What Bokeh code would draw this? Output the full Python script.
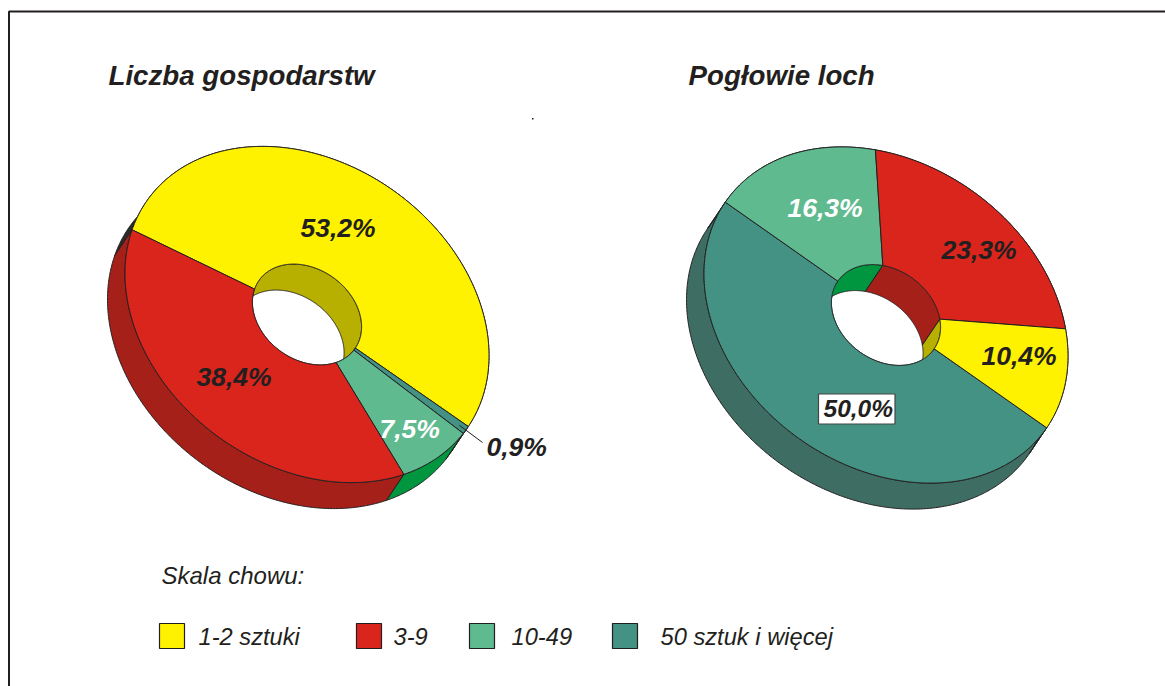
import numpy as np
from bokeh.plotting import figure
from bokeh.models import ColumnDataSource
from bokeh.core.properties import value
from bokeh.embed import file_html
from bokeh.resources import INLINE

# ---- data ----
left_title = "Liczba gospodarstw"
right_title = "Pogłowie loch"
legend_title = "Skala chowu:"
scale_names = ["1-2 sztuki", "3-9", "10-49", "50 sztuk i więcej"]
left_order = ["1-2 sztuki", "50 sztuk i więcej", "10-49", "3-9"]
left_shares = [53.2, 0.9, 7.5, 38.4]
left_labels = ["53,2%", "0,9%", "7,5%", "38,4%"]
right_order = ["50 sztuk i więcej", "10-49", "3-9", "1-2 sztuki"]
right_shares = [50.0, 16.3, 23.3, 10.4]
right_labels = ["50,0%", "16,3%", "23,3%", "10,4%"]

# ---- styles ----
INK = "#231f20"
TOP = {"1-2 sztuki": "#fff200", "3-9": "#da251c", "10-49": "#5fba8f", "50 sztuk i więcej": "#449283"}
SIDE = {"1-2 sztuki": "#b8b000", "3-9": "#a6201a", "10-49": "#009640", "50 sztuk i więcej": "#3e6d64"}
OUTER_YELLOW = "#2b2a28"   # the yellow slice's outer rim is almost black in the source
FONT = value("Liberation Sans")

W, H = 1165, 686
p = figure(width=W, height=H, x_range=(0, W), y_range=(H, 0),
           output_backend="svg", toolbar_location=None, min_border=0,
           outline_line_color=None, background_fill_color="white", border_fill_color="white")
p.axis.visible = False
p.grid.visible = False

# disc geometry: circle -> screen affine map (screen y grows downward)
A = np.array([[182.0, 0.0], [41.1, 163.0]])
INNER = 0.30
DEPTH = np.array([-17.5, 26.0])


def arc(center, r, a0, a1):
    n = max(3, int(abs(a1 - a0) * 2) + 2)
    t = np.radians(np.linspace(a0, a1, n))
    pts = A @ np.vstack([np.cos(t), np.sin(t)]) * r
    return pts[0] + center[0], pts[1] + center[1]


def donut(center, order, shares, start):
    ang = start + np.concatenate([[0], np.cumsum(shares)]) * 3.6
    side = {"x": [], "y": [], "c": []}
    wall = {"x": [], "y": [], "c": []}
    top = {"x": [], "y": [], "c": []}
    for name, a0, a1 in zip(order, ang[:-1], ang[1:]):
        for r, store in ((1.0, side), (INNER, wall)):
            x, y = arc(center, r, a0, a1)
            store["x"].append(np.concatenate([x, x[::-1] + DEPTH[0]]))
            store["y"].append(np.concatenate([y, y[::-1] + DEPTH[1]]))
            rim_yellow = r == 1.0 and name == "1-2 sztuki"
            store["c"].append(OUTER_YELLOW if rim_yellow else SIDE[name])
        xo, yo = arc(center, 1.0, a0, a1)
        xi, yi = arc(center, INNER, a1, a0)
        top["x"].append(np.concatenate([xo, xi]))
        top["y"].append(np.concatenate([yo, yi]))
        top["c"].append(TOP[name])
    for store in (side, wall, top):
        p.patches("x", "y", source=ColumnDataSource(store), fill_color="c",
                  line_color=INK, line_width=1)
    return ang


CL = (306.5, 314.0)
CR = (885.5, 314.5)
ang_l = donut(CL, left_order, left_shares, -163.9)
ang_r = donut(CR, right_order, right_shares, 28.0)

# leader line of the 0,9% slice
mid = np.radians((ang_l[1] + ang_l[2]) / 2)
lead = A @ np.array([np.cos(mid), np.sin(mid)]) * 0.96
p.line([CL[0] + lead[0], 482], [CL[1] + lead[1], 442], line_color=INK, line_width=1)

# white box behind 50,0%
p.quad(left=[818], right=[894.5], top=[393.5], bottom=[423.5], fill_color="white",
       line_color="#444444", line_width=1.2)


def label(xs, ys, texts, size, color=INK, style="bold italic"):
    p.text(xs, ys, text=texts, text_font=FONT, text_font_size=size, text_font_style=style,
           text_color=color, text_align="left", text_baseline="middle")


# titles
label([108], [75], [left_title], "27.7px")
label([688], [75], [right_title], "27.7px")

# value labels
label([300, 486, 379, 196], [227, 446, 428, 376], left_labels, "26.5px",
      color=[INK, INK, "white", INK])
label([823], [408], right_labels[:1], "24.5px")
label([787, 941, 981], [207, 249, 355], right_labels[1:], "26.5px",
      color=["white", INK, INK])

# legend
label([161], [575], [legend_title], "24px", style="italic")
swatch_x = [159, 356, 469, 612]
text_x = [198, 393, 511, 660]
p.quad(left=swatch_x, right=[v + 25 for v in swatch_x], top=[623] * 4, bottom=[648] * 4,
       fill_color=[TOP[n] for n in scale_names], line_color=INK, line_width=1.2)
label(text_x, [636] * 4, scale_names, "23.7px", style="italic")

# frame (runs off the page at right and bottom)
p.line([8.5, 8.5, W], [H, 11, 11], line_color=INK, line_width=2)
# speck in the source artwork
p.quad(left=[531.5], right=[533], top=[117.5], bottom=[119], fill_color=INK, line_color=None)

open("out.html", "w").write(file_html(p, INLINE))
